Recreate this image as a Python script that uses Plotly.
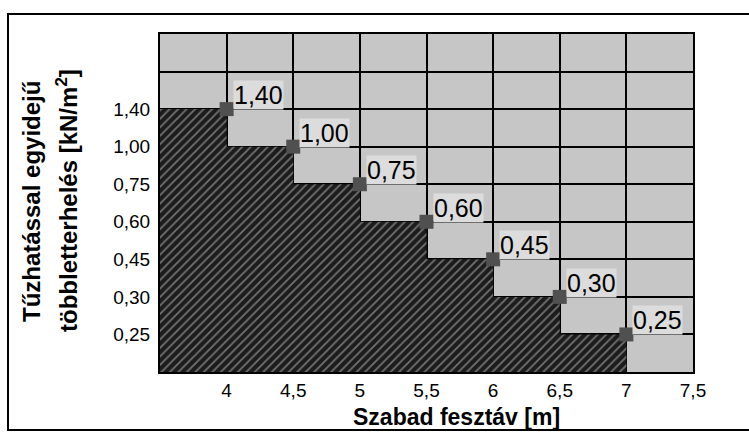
import plotly.graph_objects as go

# ---- data ----
span_m = [4, 4.5, 5, 5.5, 6, 6.5, 7]
load_values = [1.40, 1.00, 0.75, 0.60, 0.45, 0.30, 0.25]
load_labels = ["1,40", "1,00", "0,75", "0,60", "0,45", "0,30", "0,25"]
y_tick_labels = ["0,25", "0,30", "0,45", "0,60", "0,75", "1,00", "1,40"]
x_tick_vals = [4, 4.5, 5, 5.5, 6, 6.5, 7, 7.5]
x_tick_labels = ["4", "4,5", "5", "5,5", "6", "6,5", "7", "7,5"]
x_range = [3.5, 7.5]
y_title_lines = ["Tűzhatással egyidejű", "többletterhelés [kN/m<sup>2</sup>]"]
x_title = "Szabad fesztáv [m]"

# ordinal level of each load value on the (category-like) y axis
sorted_vals = sorted(set(load_values))
levels = [sorted_vals.index(v) + 1 for v in load_values]
n_rows = len(y_tick_labels) + 2
label_levels = list(range(1, len(y_tick_labels) + 1))
extra_grid_levels = list(range(len(y_tick_labels) + 1, n_rows))

W, H = 749, 433
ML, MR, MT, MB = 160, 56, 34, 61
PW, PH = W - ML - MR, H - MT - MB

def px_x(p):
    return (p - ML) / PW

def px_y(p):
    return (H - MB - p) / PH

FONT = "Arial, Liberation Sans, sans-serif"

fig = go.Figure()

# hatched step area
fig.add_trace(go.Scatter(
    x=[x_range[0]] + span_m,
    y=[levels[0]] + levels,
    mode="lines",
    line=dict(shape="vh", width=0, color="#222222"),
    fill="tozeroy",
    fillcolor="#2a2a2a",
    fillpattern=dict(shape="/", bgcolor="#1c1c1c", fgcolor="#c8c8c8",
                     size=6, solidity=0.3),
    hoverinfo="skip",
    showlegend=False,
))

# markers
fig.add_trace(go.Scatter(
    x=span_m, y=levels, mode="markers",
    marker=dict(symbol="square", size=14, color="#505050",
                line=dict(width=0)),
    showlegend=False,
))

# data labels
for xv, lv, lab in zip(span_m, levels, load_labels):
    fig.add_annotation(
        x=xv, y=lv, text=lab, showarrow=False,
        xanchor="left", yanchor="middle", xshift=6, yshift=14,
        font=dict(family=FONT, size=25, color="#000000"),
        bgcolor="#dcdcdc", borderpad=0,
    )

# axis titles as annotations
fig.add_annotation(x=px_x(31), y=px_y(202), xref="paper", yref="paper",
                   text="<b>%s</b>" % y_title_lines[0], textangle=-90,
                   showarrow=False, xanchor="center", yanchor="middle",
                   font=dict(family=FONT, size=24, color="#000000"))
fig.add_annotation(x=px_x(67), y=px_y(201), xref="paper", yref="paper",
                   text="<b>%s</b>" % y_title_lines[1], textangle=-90,
                   showarrow=False, xanchor="center", yanchor="middle",
                   font=dict(family=FONT, size=24, color="#000000"))
fig.add_annotation(x=px_x(456), y=px_y(417), xref="paper", yref="paper",
                   text="<b>%s</b>" % x_title,
                   showarrow=False, xanchor="center", yanchor="middle",
                   font=dict(family=FONT, size=23, color="#000000"))

# outer frame
fig.add_shape(type="rect", xref="paper", yref="paper",
              x0=px_x(8), x1=px_x(770), y0=px_y(430), y1=px_y(14),
              line=dict(color="#000000", width=2), fillcolor="rgba(0,0,0,0)",
              layer="below")

fig.update_layout(
    width=W, height=H,
    margin=dict(l=ML, r=MR, t=MT, b=MB),
    paper_bgcolor="#ffffff",
    plot_bgcolor="#c6c6c6",
    font=dict(family=FONT, size=19, color="#000000"),
    showlegend=False,
    xaxis=dict(range=x_range, tickvals=x_tick_vals, ticktext=x_tick_labels,
               showgrid=True, gridcolor="#000000", gridwidth=2,
               showline=True, linecolor="#000000", linewidth=2, mirror=True,
               ticks="", zeroline=False, tickfont=dict(size=19)),
    yaxis=dict(range=[0, n_rows], tickvals=label_levels,
               ticktext=y_tick_labels,
               showgrid=True, gridcolor="#000000", gridwidth=2,
               minor=dict(tickvals=extra_grid_levels, showgrid=True,
                          gridcolor="#000000", gridwidth=2, ticks=""),
               showline=True, linecolor="#000000", linewidth=2, mirror=True,
               ticks="", zeroline=False, tickfont=dict(size=19),
               ticklabelstandoff=4),
)

fig.write_html("out.html",
               config={"displayModeBar": False},
               post_script="document.body.style.margin='0';document.body.style.overflow='hidden';")
